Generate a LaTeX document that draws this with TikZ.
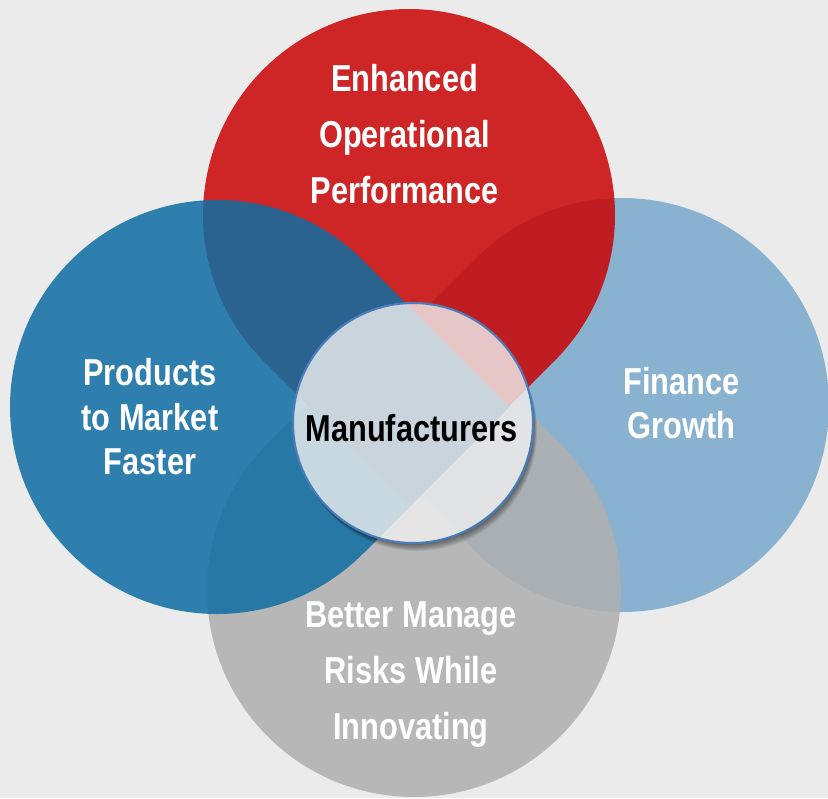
\documentclass[tikz,border=0pt]{standalone}
\usepackage{fontspec}
\usepackage{tikz}
\usepackage{xcolor}
\newfontfamily\labelfont[FakeStretch=0.82]{Liberation Sans}

\definecolor{pagebg}{RGB}{235,235,235}
\definecolor{opred}{RGB}{202,4,5}
\definecolor{mktblue}{RGB}{14,109,163}
\definecolor{finblue}{RGB}{121,168,204}
\definecolor{riskgray}{RGB}{175,175,175}
\definecolor{hubfill}{RGB}{241,241,241}
\definecolor{hubline}{RGB}{74,126,187}

\tikzset{
  petal/.style={opacity=0.85},
  petaltext/.style={text=white, align=center, inner sep=0pt,
    font=\labelfont\bfseries\fontsize{32}{47.8}\selectfont},
  petaltight/.style={petaltext, font=\labelfont\bfseries\fontsize{32}{38}\selectfont},
  hubring/.style={circle, minimum size=7.2cm, inner sep=0pt, fill=hubfill,
    fill opacity=0.8, draw=hubline, line width=1.8pt},
  hubtext/.style={text=black, inner sep=0pt,
    font=\labelfont\bfseries\fontsize{32}{38}\selectfont}
}

\begin{document}
\begin{tikzpicture}[x=0.03cm, y=-0.03cm]
\useasboundingbox (0,0) rectangle (828,798);
\fill[pagebg] (0,0) rectangle (828,798);
\clip (0,0) rectangle (828,798);

\fill[finblue, petal] (622,405) ++(225:207) arc[start angle=225, end angle=495, radius=207] -- (329.3,405) -- cycle;
\fill[riskgray, petal] (414,590) ++(315:207) arc[start angle=315, end angle=585, radius=207] -- (414,297.3) -- cycle;
\fill[opred, petal] (409,215) ++(135:206) arc[start angle=135, end angle=405, radius=206] -- (409,506.3) -- cycle;
\fill[mktblue, petal] (217,407) ++(45:207) arc[start angle=45, end angle=315, radius=207] -- (509.7,407) -- cycle;

\begin{scope}[even odd rule]
\clip (0,0) rectangle (828,798) (413,423) circle (120);
\foreach \s in {1,...,8}
  \fill[black, opacity=0.07] (413+\s*0.5, 423+\s) circle (120);
\end{scope}

\node[hubring] (hub) at (413,423) {};
\node[hubtext] (hubname) at (411.5,428.5) {Manufacturers};

\node[petaltext] (operational) at (404.5,134) {Enhanced\\Operational\\Performance};
\node[petaltight] (market) at (150,417) {Products\\to Market\\Faster};
\node[petaltight] (finance) at (681.5,403) {Finance\\Growth};
\node[petaltext] (risks) at (411,675) {Better Manage\\Risks While\\Innovating};

\end{tikzpicture}
\end{document}
